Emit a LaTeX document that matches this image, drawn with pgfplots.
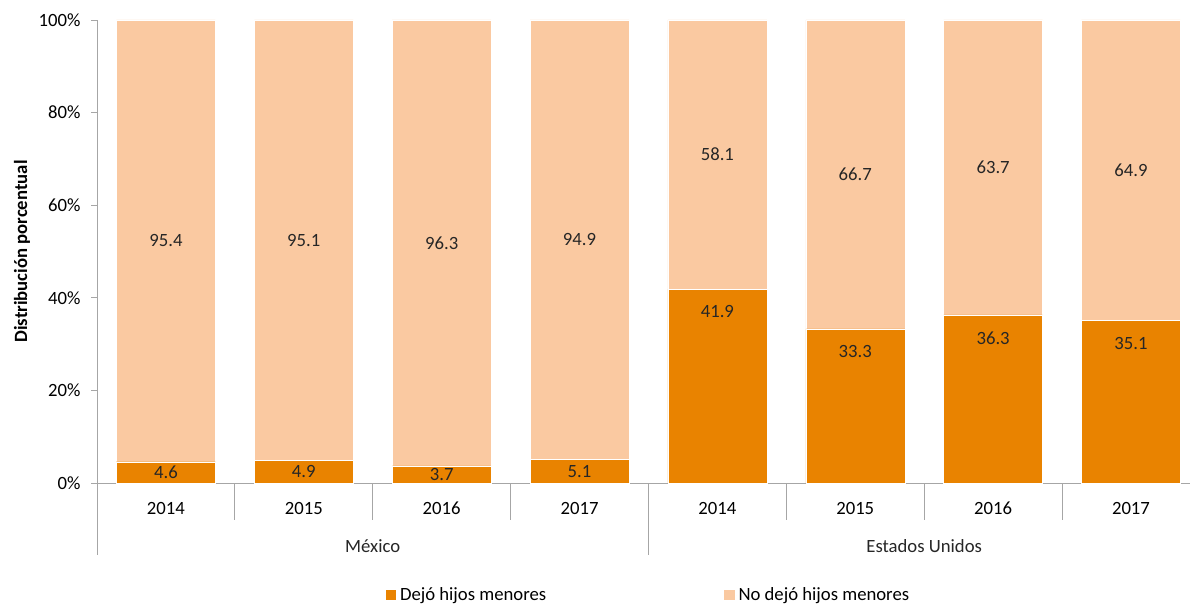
\documentclass[border=0pt]{standalone}
\usepackage{fontspec}
\setmainfont{Carlito}
\usepackage{pgfplots}
\usepackage{pgfplotstable}
\pgfplotsset{compat=1.18}
\definecolor{darkor}{HTML}{E98300}
\definecolor{lightor}{HTML}{FAC9A1}
\definecolor{axgray}{HTML}{A6A6A6}
\newcommand\fs{\fontsize{18.7}{22}\selectfont}
\pgfplotstableread{
x a b
0 4.6 95.4
1 4.9 95.1
2 3.7 96.3
3 5.1 94.9
4 41.9 58.1
5 33.3 66.7
6 36.3 63.7
7 35.1 64.9
}\data
\begin{document}
\begin{tikzpicture}[font=\fs]
\begin{axis}[
  at={(97pt,122pt)}, anchor=south west,
  scale only axis, width=1103pt, height=463pt,
  xmin=-0.5, xmax=7.5, ymin=0, ymax=100,
  ybar stacked, bar width=99pt,
  axis x line*=bottom, axis y line*=left,
  axis line style={axgray, line width=0.8pt},
  tick align=outside,
  ytick={0,20,40,60,80,100},
  yticklabels={0\%,20\%,40\%,60\%,80\%,100\%},
  major tick length=6pt,
  ytick style={axgray, line width=0.8pt},
  yticklabel style={anchor=east, xshift=-7pt},
  xtick={0,...,7},
  xticklabels={2014,2015,2016,2017,2014,2015,2016,2017},
  xtick style={draw=none},
  minor xtick={0.5,1.5,2.5,4.5,5.5,6.5},
  minor tick length=37pt,
  every minor x tick/.append style={draw=axgray, line width=0.8pt},
  xticklabel style={anchor=center, yshift=-19pt},
  legend style={draw=none, at={(0.5,0)}, anchor=center, yshift=-112pt, xshift=0pt,
    legend columns=2, font=\fs,
    /tikz/every even column/.append style={column sep=176pt}},
  legend cell align=left,
  legend image code/.code={\path (0pt,0pt) -- (12pt,0pt); \fill[#1, draw=none] (0pt,-5pt) rectangle (10.5pt,5.5pt);},
  clip=false,
  point meta=explicit symbolic,
  nodes near coords={\pgfplotspointmeta},
  nodes near coords style={anchor=center, text=black!85, font=\fs,
    yshift={(\segmode>0.5 ? 2.315*\pgfplotspointmeta-min(23,2.315*\pgfplotspointmeta) : 0)*1pt}},
]
\addplot[fill=darkor, draw=white, line width=0.3pt,
  visualization depends on={value 1 \as \segmode}]
  table[x=x, y=a, meta=a] {\data};
\addlegendentry{Dejó hijos menores}
\addplot[fill=lightor, draw=white, line width=0.3pt,
  visualization depends on={value 0 \as \segmode}]
  table[x=x, y=b, meta=b] {\data};
\addlegendentry{No dejó hijos menores}
\draw[axgray, line width=0.8pt] (axis cs:-0.5,0) -- ++(0pt,-72pt);
\draw[axgray, line width=0.8pt] (axis cs:3.5,0) -- ++(0pt,-72pt);
\draw[axgray, line width=0.8pt] (axis cs:7.5,0) -- ++(0pt,-72pt);
\node[text=black!85] at ([yshift=-63pt]axis cs:1.5,0) {México};
\node[text=black!85] at ([yshift=-63pt]axis cs:5.5,0) {Estados Unidos};
\node[rotate=90, font=\fontsize{18.7}{22}\selectfont\bfseries, text=black] at ([xshift=-75pt]rel axis cs:0,0.5) {Distribución porcentual};
\end{axis}
\pgfresetboundingbox
\useasboundingbox (0,0) rectangle (1190pt,605pt);
\end{tikzpicture}
\end{document}
